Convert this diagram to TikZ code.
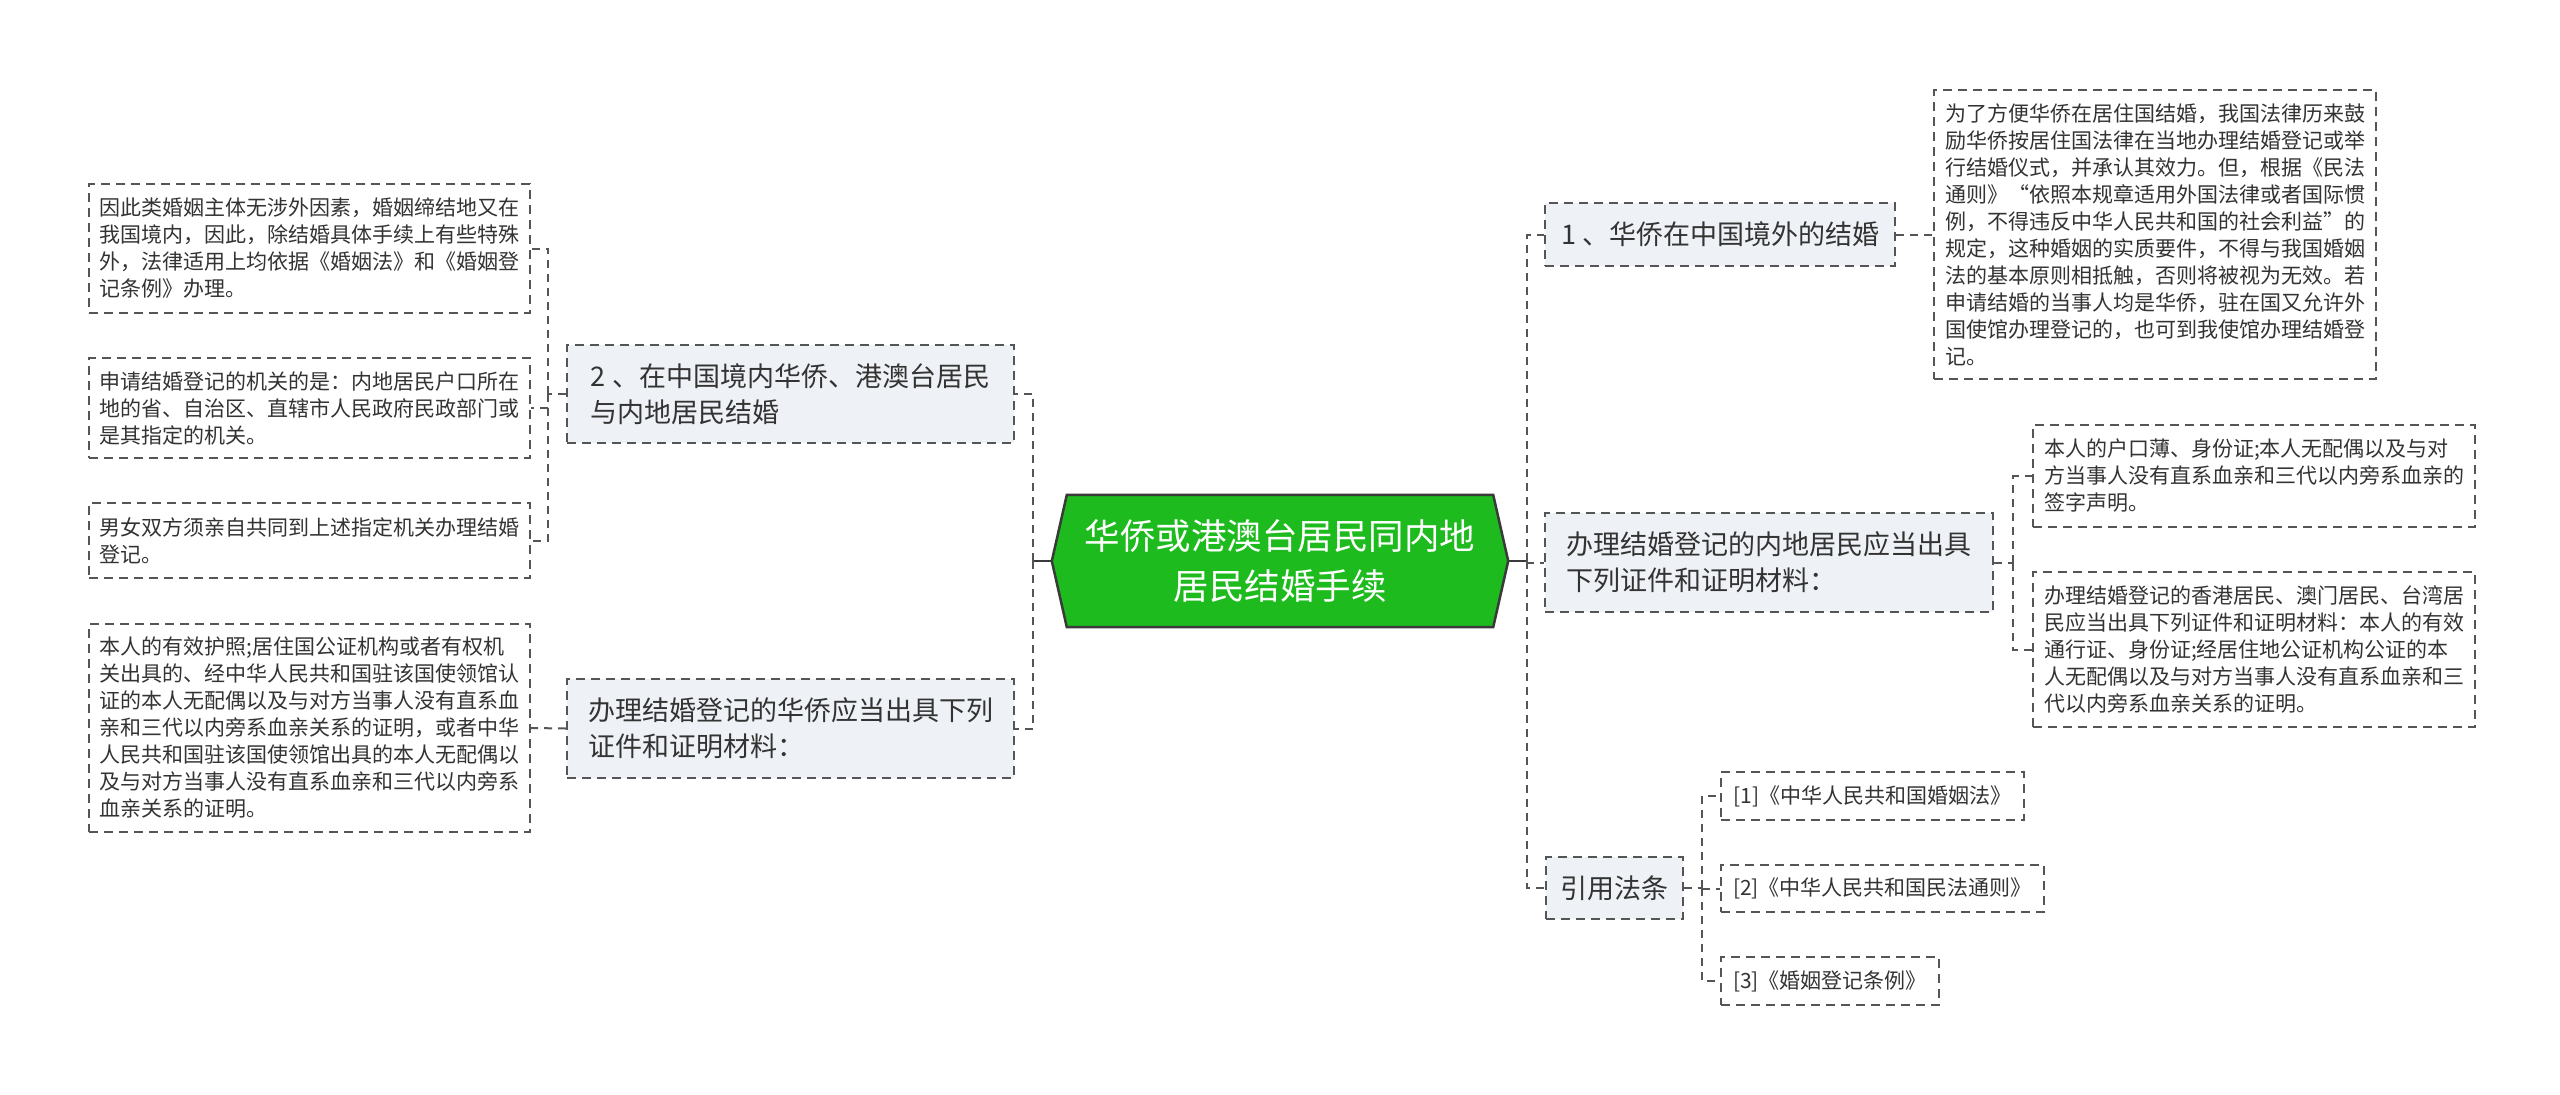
\documentclass[tikz,border=0pt]{standalone}
\usepackage{fontspec}
\setmainfont{Noto Sans CJK SC}
\usetikzlibrary{backgrounds}
\definecolor{linec}{HTML}{555555}
\definecolor{txt}{HTML}{333333}
\definecolor{lone}{HTML}{EEF1F5}
\definecolor{hexg}{HTML}{1DBB1D}
\definecolor{hexb}{HTML}{3A3A3A}
\tikzset{
  sz/.style 2 args={minimum width=#1pt, minimum height=#2pt},
  boxbase/.style={draw=linec, line width=1.8pt, dash pattern=on 9pt off 6pt, text=txt, align=left, inner sep=3pt},
  leafbox/.style={boxbase, fill=white, font=\fontsize{21}{27}\selectfont},
  lonebox/.style={boxbase, fill=lone, font=\fontsize{27}{36}\selectfont},
  hexnode/.style={align=center, text=white, font=\fontsize{35.5}{50}\selectfont, minimum width=456pt, minimum height=132pt, inner sep=0pt},
  conn/.style={draw=linec, line width=2pt, dash pattern=on 8pt off 6pt},
  stub/.style={draw=hexb, line width=2.5pt}
}
\begin{document}
\begin{tikzpicture}[x=1pt,y=-1pt]
\useasboundingbox (0,0) rectangle (2560,1095);
% centre
\node[hexnode] (c) at (1280,561) {华侨或港澳台居民同内地\\居民结婚手续};
\begin{pgfonlayer}{background}
\fill[white] (0,0) rectangle (2560,1095);
\filldraw[fill=hexg, draw=hexb, line width=2.5pt, line join=miter]
  (c.west) -- ([xshift=15pt]c.north west) -- ([xshift=-15pt]c.north east) -- (c.east)
  -- ([xshift=-15pt]c.south east) -- ([xshift=15pt]c.south west) -- cycle;
\end{pgfonlayer}
% left side
\node[lonebox, sz={447}{98}] (A) at (790.5,394) {2 、在中国境内华侨、港澳台居民\\与内地居民结婚};
\node[lonebox, sz={447}{99}] (B) at (790.5,728.5) {办理结婚登记的华侨应当出具下列\\证件和证明材料：};
\node[leafbox, sz={441}{129}] (LA1) at (309.5,248.5) {因此类婚姻主体无涉外因素，婚姻缔结地又在\\我国境内，因此，除结婚具体手续上有些特殊\\外，法律适用上均依据《婚姻法》和《婚姻登\\记条例》办理。};
\node[leafbox, sz={441}{100}] (LA2) at (309.5,408) {申请结婚登记的机关的是：内地居民户口所在\\地的省、自治区、直辖市人民政府民政部门或\\是其指定的机关。};
\node[leafbox, sz={441}{75}] (LA3) at (309.5,540.5) {男女双方须亲自共同到上述指定机关办理结婚\\登记。};
\node[leafbox, sz={441}{208}] (LB1) at (309.5,728) {本人的有效护照;居住国公证机构或者有权机\\关出具的、经中华人民共和国驻该国使领馆认\\证的本人无配偶以及与对方当事人没有直系血\\亲和三代以内旁系血亲关系的证明，或者中华\\人民共和国驻该国使领馆出具的本人无配偶以\\及与对方当事人没有直系血亲和三代以内旁系\\血亲关系的证明。};
% right side
\node[lonebox, sz={350}{63}] (R1) at (1720,234.5) {1 、华侨在中国境外的结婚};
\node[leafbox, sz={442}{289}] (R1a) at (2155,234.5) {为了方便华侨在居住国结婚，我国法律历来鼓\\励华侨按居住国法律在当地办理结婚登记或举\\行结婚仪式，并承认其效力。但，根据《民法\\通则》“依照本规章适用外国法律或者国际惯\\例，不得违反中华人民共和国的社会利益”的\\规定，这种婚姻的实质要件，不得与我国婚姻\\法的基本原则相抵触，否则将被视为无效。若\\申请结婚的当事人均是华侨，驻在国又允许外\\国使馆办理登记的，也可到我使馆办理结婚登\\记。};
\node[lonebox, sz={448}{99}] (R2) at (1769,562.5) {办理结婚登记的内地居民应当出具\\下列证件和证明材料：};
\node[leafbox, sz={442}{102}] (R2a) at (2254,476) {本人的户口薄、身份证;本人无配偶以及与对\\方当事人没有直系血亲和三代以内旁系血亲的\\签字声明。};
\node[leafbox, sz={442}{155}] (R2b) at (2254,649.5) {办理结婚登记的香港居民、澳门居民、台湾居\\民应当出具下列证件和证明材料：本人的有效\\通行证、身份证;经居住地公证机构公证的本\\人无配偶以及与对方当事人没有直系血亲和三\\代以内旁系血亲关系的证明。};
\node[lonebox, sz={137}{62}] (R3) at (1614.5,888) {引用法条};
\node[leafbox, sz={303}{48}] (R3a) at (1872.5,796) {[1]《中华人民共和国婚姻法》};
\node[leafbox, sz={323}{47}] (R3b) at (1882.5,888.5) {[2]《中华人民共和国民法通则》};
\node[leafbox, sz={218}{48}] (R3c) at (1830,981) {[3]《婚姻登记条例》};
% junctions
\coordinate (jl) at (1033,561);
\coordinate (jr) at (1527,561);
\coordinate (ja) at (548,394);
\coordinate (j2) at (2013,562.5);
\coordinate (j3) at (1702,888);
% connectors
\draw[stub] (c.west) -- (jl);
\draw[stub] (c.east) -- (jr);
\draw[conn] (jl) |- (A.east);
\draw[conn] (jl) |- (B.east);
\draw[conn] (A.west) -- (ja);
\draw[conn] (ja) |- (LA1.east);
\draw[conn] (ja) |- (LA2.east);
\draw[conn] (ja) |- (LA3.east);
\draw[conn] (B.west) -- (LB1.east);
\draw[conn] (jr) |- (R1.west);
\draw[conn] (jr) |- (R2.west);
\draw[conn] (jr) |- (R3.west);
\draw[conn] (R1.east) -- (R1a.west);
\draw[conn] (R2.east) -- (j2);
\draw[conn] (j2) |- (R2a.west);
\draw[conn] (j2) |- (R2b.west);
\draw[conn] (R3.east) -- (j3);
\draw[conn] (j3) |- (R3a.west);
\draw[conn] (j3) |- (R3b.west);
\draw[conn] (j3) |- (R3c.west);
\end{tikzpicture}
\end{document}
